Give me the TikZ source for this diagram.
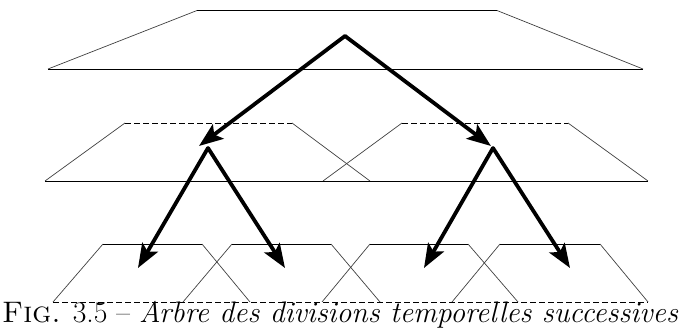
\documentclass[tikz,border=0pt]{standalone}
\usetikzlibrary{arrows.meta}
\begin{document}
\begin{tikzpicture}[x=1pt,y=-1pt,
  side/.style={line width=0.7pt,black!75},
  edge/.style={line width=0.9pt,black},
  dashedge/.style={line width=0.9pt,black,dash pattern=on 6pt off 3pt},
  tree/.style={line width=3.8pt,line cap=round,line join=round,
    -{Stealth[length=24pt,width=18pt,inset=5pt]}}]
\useasboundingbox (0,0) rectangle (680,331);
% top level
\draw[side] (48,69) -- (197,10.5);
\draw[side] (497,10.5) -- (643,69);
\draw[edge] (197,10.5) -- (497,10.5);
\draw[edge] (48,69) -- (643,69);
% middle level
\draw[side] (45,181) -- (125,123);
\draw[side] (292,123) -- (370,181);
\draw[side] (323,181) -- (402,123);
\draw[side] (568,123) -- (648,181);
\draw[dashedge] (125,123) -- (292,123);
\draw[dashedge] (402,123) -- (568,123);
\draw[edge] (45,181) -- (648,181);
% bottom level
\draw[side] (53,302) -- (103,244);
\draw[side] (202,244) -- (250,302);
\draw[side] (183,302) -- (232,244);
\draw[side] (331,244) -- (380,302);
\draw[side] (322,302) -- (370,244);
\draw[side] (468,244) -- (518,302);
\draw[side] (452,302) -- (500,244);
\draw[side] (600,244) -- (648,302);
\draw[edge] (103,244) -- (202,244);
\draw[edge] (232,244) -- (331,244);
\draw[edge] (370,244) -- (468,244);
\draw[edge] (500,244) -- (600,244);
\draw[dashedge] (53,302) -- (648,302);
% tree
\coordinate (r) at (345,36);
\coordinate (a) at (208,148);
\coordinate (b) at (493,148);
\coordinate (ta) at (199,146);
\coordinate (tb) at (491,146);
\coordinate (l1) at (138,268);
\coordinate (l2) at (285,268);
\coordinate (l3) at (424,268);
\coordinate (l4) at (570,268);
\draw[tree] (r) -- (ta);
\draw[tree] (r) -- (tb);
\draw[tree] (a) -- (l1);
\draw[tree] (a) -- (l2);
\draw[tree] (b) -- (l3);
\draw[tree] (b) -- (l4);
% caption
\node[anchor=base west,inner sep=0pt] (cap) at (2,322)
  {\resizebox{676pt}{!}{\fontsize{24}{28}\selectfont\textsc{Fig.} 3.5 -- \textit{Arbre des divisions temporelles successives}}};
\end{tikzpicture}
\end{document}
